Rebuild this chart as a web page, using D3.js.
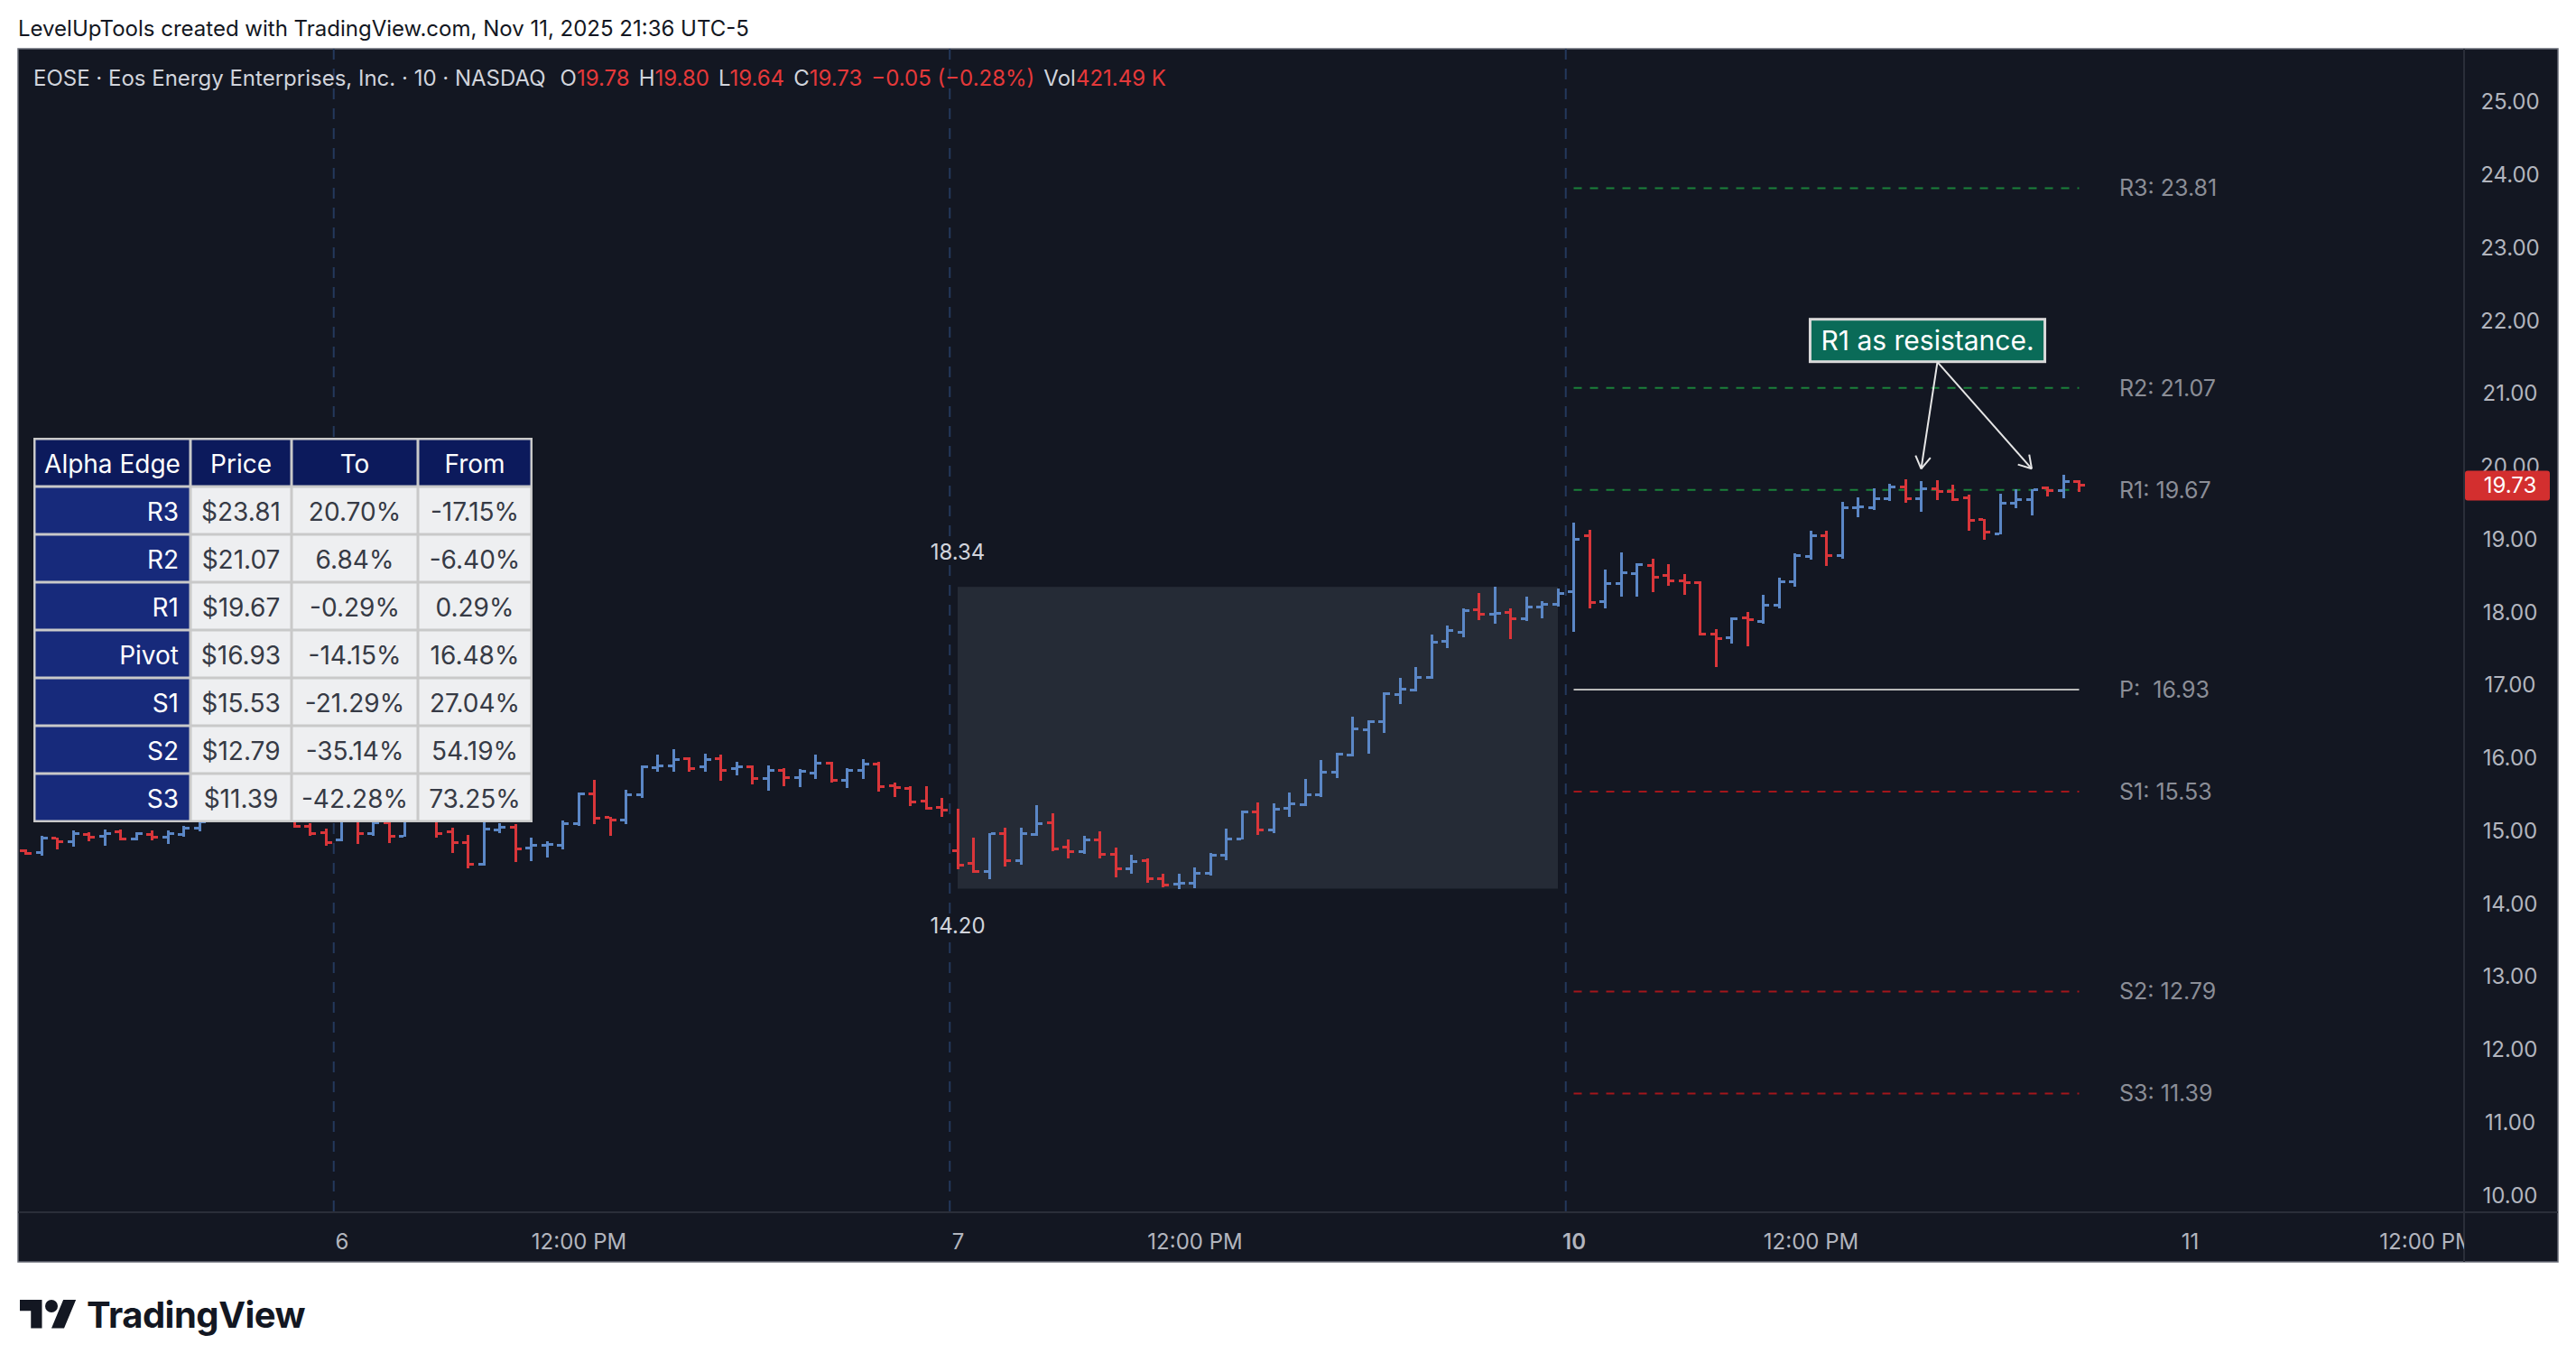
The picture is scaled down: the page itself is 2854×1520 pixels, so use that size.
<!DOCTYPE html>
<html>
<head>
<meta charset="utf-8">
<script src="https://cdn.jsdelivr.net/npm/d3@7"></script>
<style>
  body { margin: 0; background: #fff; }
  svg { display: block; font-family: Inter, "Noto Sans", sans-serif; }
</style>
</head>
<body>
<svg id="chart" width="2854" height="1520"></svg>
<script>
// 10 minute bars, [open, high, low, close]
var day5Bars = [
  [14.72,14.74,14.67,14.68],[14.69,14.92,14.65,14.89],[14.89,14.90,14.74,14.85],[14.85,15.00,14.78,14.96],
  [14.94,14.98,14.85,14.90],[14.92,15.01,14.79,14.96],[14.98,15.01,14.86,14.88],[14.88,14.97,14.86,14.95],
  [14.94,15.00,14.86,14.90],[14.90,15.00,14.81,14.96],[14.94,15.06,14.91,15.03],[15.03,15.15,14.99,15.12],
  [15.13,15.25,15.12,15.20],[15.20,15.32,15.16,15.28],[15.28,15.35,15.18,15.22],[15.22,15.36,15.19,15.30],
  [15.30,15.33,15.15,15.20],[15.20,15.24,15.03,15.05],[15.05,15.10,14.93,14.96],[14.97,15.02,14.79,14.83]
];
var day6Bars = [
  [14.87,15.20,14.85,15.15],[15.15,15.18,14.81,14.95],[14.95,15.14,14.92,15.10],[15.10,15.15,14.83,14.92],
  [14.92,15.22,14.91,15.18],[15.18,15.28,15.14,15.22],[15.22,15.25,14.90,14.96],[14.98,15.04,14.69,14.83],
  [14.83,14.94,14.48,14.54],[14.54,15.16,14.51,15.02],[15.01,15.10,14.96,15.04],[15.04,15.08,14.57,14.74],
  [14.76,14.90,14.58,14.80],[14.79,14.85,14.63,14.81],[14.79,15.14,14.74,15.09],[15.09,15.52,15.06,15.50],
  [15.50,15.69,15.08,15.17],[15.18,15.19,14.92,15.14],[15.14,15.55,15.08,15.49],[15.49,15.89,15.45,15.87],
  [15.86,16.04,15.80,15.88],[15.89,16.11,15.80,15.97],[15.98,16.00,15.80,15.85],[15.87,16.05,15.80,15.97],
  [15.98,16.04,15.68,15.82],[15.85,15.94,15.75,15.87],[15.87,15.89,15.63,15.71],[15.71,15.89,15.54,15.82],
  [15.82,15.85,15.60,15.72],[15.72,15.84,15.59,15.81],[15.78,16.04,15.71,15.92],[15.92,15.94,15.66,15.68],
  [15.68,15.85,15.58,15.82],[15.82,15.98,15.70,15.91],[15.91,15.94,15.53,15.60],[15.61,15.66,15.46,15.59],
  [15.58,15.60,15.33,15.39],[15.40,15.61,15.28,15.30],[15.31,15.45,15.19,15.28]
];
var day7Bars = [
  [14.72,15.29,14.47,14.52],[14.55,14.90,14.42,14.44],[14.44,14.96,14.33,14.95],[14.96,15.03,14.50,14.59],
  [14.58,15.03,14.53,14.96],[14.94,15.35,14.92,15.09],[15.10,15.24,14.72,14.75],[14.77,14.87,14.61,14.71],
  [14.71,14.92,14.68,14.87],[14.87,14.99,14.62,14.67],[14.67,14.76,14.35,14.47],[14.47,14.67,14.41,14.57],
  [14.59,14.62,14.28,14.34],[14.34,14.40,14.22,14.25],[14.26,14.41,14.20,14.28],[14.28,14.49,14.21,14.41],
  [14.41,14.69,14.38,14.66],[14.66,15.02,14.59,14.88],[14.88,15.27,14.87,15.25],[15.25,15.38,14.94,15.01],
  [15.00,15.37,14.96,15.29],[15.30,15.52,15.18,15.36],[15.35,15.70,15.33,15.49],[15.49,15.96,15.46,15.80],
  [15.80,16.06,15.72,16.04],[16.03,16.56,16.01,16.39],[16.38,16.51,16.05,16.49],[16.49,16.89,16.33,16.87],
  [16.86,17.09,16.73,16.94],[16.93,17.24,16.91,17.10],[17.10,17.69,17.08,17.58],[17.59,17.81,17.50,17.74],
  [17.72,18.05,17.65,18.02],[18.03,18.25,17.89,17.96],[17.97,18.34,17.83,17.98],[17.99,18.04,17.63,17.90],
  [17.90,18.20,17.87,18.06],[18.06,18.15,17.91,18.10],[18.10,18.32,18.07,18.25]
];
var day10Bars = [
  [18.27,19.22,17.72,18.99],[19.04,19.12,18.04,18.12],[18.14,18.58,18.05,18.38],[18.38,18.81,18.20,18.53],
  [18.52,18.66,18.20,18.64],[18.63,18.73,18.27,18.47],[18.50,18.65,18.36,18.42],[18.42,18.52,18.23,18.40],
  [18.40,18.42,17.67,17.69],[17.69,17.76,17.24,17.63],[17.64,17.92,17.56,17.90],[17.91,17.99,17.52,17.89],
  [17.87,18.23,17.83,18.09],[18.09,18.47,18.05,18.41],[18.41,18.80,18.34,18.77],[18.76,19.11,18.71,19.04],
  [19.04,19.11,18.63,18.77],[18.77,19.51,18.72,19.42],[19.42,19.57,19.30,19.44],[19.43,19.69,19.40,19.55],
  [19.55,19.75,19.52,19.71],[19.71,19.82,19.49,19.55],[19.55,19.79,19.37,19.68],[19.68,19.80,19.53,19.65],
  [19.65,19.74,19.52,19.54],[19.56,19.61,19.11,19.25],[19.26,19.27,18.99,19.09],[19.07,19.62,19.06,19.49],
  [19.49,19.68,19.42,19.54],[19.54,19.68,19.32,19.67],[19.70,19.72,19.58,19.66],[19.66,19.88,19.56,19.78],
  [19.78,19.80,19.64,19.73]
];
var barsPerDay = 39;
var dayNames = ["6", "7", "10", "11"];

// pivot levels and the table
var levelNames = ["R3", "R2", "R1", "Pivot", "S1", "S2", "S3"];
var levelShort = ["R3", "R2", "R1", "P: ", "S1", "S2", "S3"];
var levelPrices = [23.81, 21.07, 19.67, 16.93, 15.53, 12.79, 11.39];
var levelTo = ["20.70%", "6.84%", "-0.29%", "-14.15%", "-21.29%", "-35.14%", "-42.28%"];
var levelFrom = ["-17.15%", "-6.40%", "0.29%", "16.48%", "27.04%", "54.19%", "73.25%"];
var tableHeader = ["Alpha Edge", "Price", "To", "From"];

var priceTicks = [10, 11, 12, 13, 14, 15, 16, 17, 18, 19, 20, 21, 22, 23, 24, 25];
var legendKeys = ["O", "H", "L", "C", "", "Vol"];
var legendValues = ["19.78", "19.80", "19.64", "19.73", "\u22120.05 (\u22120.28%)", "421.49 K"];
var annotationText = "R1 as resistance.";
var annotationTargets = [120, 127];

var upColor = "#5b87c6", downColor = "#d9363a";
var panel = {x: 20, y: 54, w: 2814, h: 1344};
var axisX = 2730, axisY = 1343;

var svg = d3.select("#chart");

// build bar objects on one slot index
var bars = [].concat(day5Bars, day6Bars, day7Bars, day10Bars).map(function(b, i) {
  return {i: i, o: b[0], h: b[1], l: b[2], c: b[3]};
});
var day6Start = day5Bars.length;
var day7Start = day6Start + day6Bars.length;
var day10Start = day7Start + day7Bars.length;
var dayStarts = [day6Start, day7Start, day10Start, day10Start + barsPerDay];
var timeTickSlots = [], timeTickLabels = [];
dayStarts.forEach(function(s, k) {
  timeTickSlots.push(s, s + 15);
  timeTickLabels.push(dayNames[k], "12:00 PM");
});

var xScale = d3.scaleLinear().domain([0, 152]).range([28.5, 28.5 + 152 * 17.5]);
var yScale = d3.scaleLinear().domain([10, 25]).range([1323.7, 112.3]);

// header
svg.append("text").attr("x", 20).attr("y", 31).attr("dominant-baseline", "central")
  .style("font-size", "24px").style("fill", "#131722")
  .text("LevelUpTools created with TradingView.com, Nov 11, 2025 21:36 UTC-5");

svg.append("rect").attr("x", panel.x).attr("y", panel.y).attr("width", panel.w).attr("height", panel.h)
  .style("fill", "#131722").style("stroke", "#6a6d78").style("stroke-width", 1.5);

svg.append("clipPath").attr("id", "plotClip").append("rect")
  .attr("x", panel.x).attr("y", panel.y).attr("width", axisX - panel.x).attr("height", axisY - panel.y);
svg.append("clipPath").attr("id", "timeClip").append("rect")
  .attr("x", panel.x).attr("y", axisY).attr("width", axisX - panel.x).attr("height", panel.y + panel.h - axisY);

var plot = svg.append("g").attr("clip-path", "url(#plotClip)");

// day 7 range box
var day7 = bars.slice(day7Start, day10Start);
var boxHigh = d3.max(day7, function(d) { return d.h; });
var boxLow = d3.min(day7, function(d) { return d.l; });
plot.append("rect")
  .attr("x", xScale(day7Start)).attr("y", yScale(boxHigh))
  .attr("width", xScale(day10Start - 1) - xScale(day7Start))
  .attr("height", yScale(boxLow) - yScale(boxHigh))
  .style("fill", "#252b36");

// day separators
plot.selectAll("line.sep").data(dayStarts.slice(0, 3)).enter().append("line")
  .attr("class", "sep")
  .attr("x1", function(d) { return xScale(d - 0.5); }).attr("x2", function(d) { return xScale(d - 0.5); })
  .attr("y1", panel.y).attr("y2", axisY)
  .style("stroke", "#24395c").style("stroke-width", 2).style("stroke-dasharray", "12,10");

// pivot lines
plot.selectAll("line.level").data(levelPrices).enter().append("line")
  .attr("class", "level")
  .attr("x1", xScale(day10Start)).attr("x2", xScale(bars.length - 1))
  .attr("y1", function(d) { return yScale(d); }).attr("y2", function(d) { return yScale(d); })
  .style("stroke", function(d, i) { return i < 3 ? "#1b803a" : (i == 3 ? "#b8b8b8" : "#a3161b"); })
  .style("stroke-width", 2)
  .style("stroke-dasharray", function(d, i) { return i == 3 ? null : "9,9"; });

plot.selectAll("text.levelLabel").data(levelPrices).enter().append("text")
  .attr("class", "levelLabel")
  .attr("x", 2348).attr("y", function(d) { return yScale(d); })
  .attr("dominant-baseline", "central")
  .style("font-size", "25px").style("fill", "#8b8e97").style("white-space", "pre")
  .text(function(d, i) { return levelShort[i] + (i == 3 ? " " : ": ") + d.toFixed(2); });

// OHLC bars
var barG = plot.append("g").attr("shape-rendering", "crispEdges")
  .selectAll("g").data(bars).enter().append("g")
  .style("fill", function(d) { return d.c >= d.o ? upColor : downColor; });
barG.append("rect")
  .attr("x", function(d) { return xScale(d.i) - 1.5; })
  .attr("y", function(d) { return yScale(d.h); })
  .attr("width", 3)
  .attr("height", function(d) { return Math.max(3, yScale(d.l) - yScale(d.h)); });
barG.append("rect")
  .attr("x", function(d) { return xScale(d.i) - 6.5; })
  .attr("y", function(d) { return yScale(d.o) - 1.5; })
  .attr("width", 5).attr("height", 3);
barG.append("rect")
  .attr("x", function(d) { return xScale(d.i) + 1.5; })
  .attr("y", function(d) { return yScale(d.c) - 1.5; })
  .attr("width", 5).attr("height", 3);

// range labels
plot.selectAll("text.rangeLabel").data([boxHigh, boxLow]).enter().append("text")
  .attr("class", "rangeLabel")
  .attr("x", xScale(day7Start))
  .attr("y", function(d, i) { return yScale(d) + (i == 0 ? -39 : 41); })
  .attr("text-anchor", "middle").attr("dominant-baseline", "central")
  .style("font-size", "24px").style("fill", "#d1d4dc")
  .text(function(d) { return d.toFixed(2); });

// annotation with arrows
var annX = xScale(annotationTargets[0]) + 7;
var annY = yScale(21.72);
var annG = plot.append("g");
var annText = annG.append("text").attr("x", annX).attr("y", annY)
  .attr("text-anchor", "middle").attr("dominant-baseline", "central")
  .style("font-size", "30px").style("fill", "#ffffff").text(annotationText);
var bb = annText.node().getBBox();
annG.insert("rect", "text")
  .attr("x", bb.x - 12).attr("y", annY - 23.5).attr("width", bb.width + 24).attr("height", 47)
  .style("fill", "#0a6b58").style("stroke", "#d9d9d9").style("stroke-width", 3);
var arrowStart = [annX + 11, annY + 24];
annotationTargets.forEach(function(t) {
  var ex = xScale(t), ey = yScale(19.96);
  var ang = Math.atan2(ey - arrowStart[1], ex - arrowStart[0]);
  annG.append("line").attr("x1", arrowStart[0]).attr("y1", arrowStart[1]).attr("x2", ex).attr("y2", ey)
    .style("stroke", "#e6e6e6").style("stroke-width", 2);
  [-0.55, 0.55].forEach(function(a) {
    annG.append("line").attr("x1", ex).attr("y1", ey)
      .attr("x2", ex - 16 * Math.cos(ang + a)).attr("y2", ey - 16 * Math.sin(ang + a))
      .style("stroke", "#e6e6e6").style("stroke-width", 2);
  });
});

// pivot table
var tableRows = [tableHeader].concat(levelNames.map(function(n, i) {
  return [n, "$" + levelPrices[i].toFixed(2), levelTo[i], levelFrom[i]];
}));
var colEdges = [38, 211, 323, 463, 589];
var rowH = 53, tableTop = 486;
var table = svg.append("g");
table.append("rect").attr("x", 37).attr("y", tableTop - 1)
  .attr("width", colEdges[4] - 36).attr("height", rowH * tableRows.length + 2)
  .style("fill", "#c9c9c9");
var rowG = table.selectAll("g").data(tableRows).enter().append("g")
  .attr("transform", function(d, r) { return "translate(0," + (tableTop + r * rowH) + ")"; });
rowG.each(function(row, r) {
  var g = d3.select(this);
  row.forEach(function(cell, c) {
    var x0 = colEdges[c], x1 = colEdges[c + 1];
    var bg = r == 0 ? "#0c1a5c" : (c == 0 ? "#172a7b" : "#eeeff1");
    g.append("rect").attr("x", x0 + 1.5).attr("y", 1.5).attr("width", x1 - x0 - 3).attr("height", rowH - 3)
      .style("fill", bg);
    g.append("text")
      .attr("x", (r > 0 && c == 0) ? x1 - 13 : (x0 + x1) / 2)
      .attr("y", rowH / 2 + 1)
      .attr("text-anchor", (r > 0 && c == 0) ? "end" : "middle")
      .attr("dominant-baseline", "central")
      .style("font-size", "28px")
      .style("fill", (r == 0 || c == 0) ? "#ffffff" : "#363a45")
      .text(cell);
  });
});

// axes
svg.append("line").attr("x1", axisX).attr("x2", axisX).attr("y1", panel.y).attr("y2", panel.y + panel.h)
  .style("stroke", "#2a2e39").style("stroke-width", 2);
svg.append("line").attr("x1", panel.x).attr("x2", panel.x + panel.w).attr("y1", axisY).attr("y2", axisY)
  .style("stroke", "#2a2e39").style("stroke-width", 2);

var yAxis = svg.append("g").attr("transform", "translate(" + axisX + ",0)")
  .call(d3.axisRight(yScale).tickValues(priceTicks).tickFormat(d3.format(".2f")).tickSize(0));
yAxis.select(".domain").remove();
yAxis.selectAll("text").attr("x", 51).attr("dy", null).attr("dominant-baseline", "central")
  .attr("text-anchor", "middle").style("font-size", "24px").style("fill", "#b2b5be")
  .style("font-family", "Inter, 'Noto Sans', sans-serif");

var xAxis = svg.append("g").attr("clip-path", "url(#timeClip)").append("g")
  .attr("transform", "translate(0," + axisY + ")")
  .call(d3.axisBottom(xScale).tickValues(timeTickSlots)
    .tickFormat(function(d, i) { return timeTickLabels[i]; }).tickSize(0));
xAxis.select(".domain").remove();
xAxis.selectAll("text").attr("y", 32).attr("dy", null).attr("dominant-baseline", "central")
  .style("font-size", "24px").style("fill", "#b2b5be")
  .style("font-weight", function(d) { return d == day10Start ? 600 : 400; })
  .style("font-family", "Inter, 'Noto Sans', sans-serif");

// last price tag (partly covers the 20.00 label, as in the source)
var last = bars[bars.length - 1];
svg.append("rect").attr("x", axisX + 1).attr("y", yScale(last.c) - 16.5).attr("width", 94).attr("height", 33)
  .attr("rx", 3).style("fill", "#d32f2f");
svg.append("text").attr("x", axisX + 51).attr("y", yScale(last.c)).attr("text-anchor", "middle")
  .attr("dominant-baseline", "central").style("font-size", "24px").style("fill", "#ffffff")
  .text(last.c.toFixed(2));

// legend line
var legend = svg.append("text").attr("x", 37).attr("y", 86).attr("dominant-baseline", "central")
  .style("font-size", "24px").style("fill", "#d1d4dc").style("white-space", "pre");
legend.append("tspan").text("EOSE \u00b7 Eos Energy Enterprises, Inc. \u00b7 10 \u00b7 NASDAQ");
legendKeys.forEach(function(k, i) {
  var gap = i == 0 ? 16 : 10;
  if (k) legend.append("tspan").attr("dx", gap).text(k);
  legend.append("tspan").attr("dx", k ? null : gap).style("fill", "#e5393a").text(legendValues[i]);
});

// footer logo
var logo = svg.append("g").attr("transform", "translate(22,1433) scale(1.75)").style("fill", "#131722");
logo.append("path").attr("d", "M14 22H7V11H0V4h14v18zM28 22h-8l7.5-18h8L28 22z");
logo.append("circle").attr("cx", 20).attr("cy", 8).attr("r", 4);
svg.append("text").attr("x", 96).attr("y", 1471).style("font-size", "40px").style("font-weight", 700)
  .style("fill", "#131722").style("letter-spacing", "-0.5px").text("TradingView");
</script>
</body>
</html>
